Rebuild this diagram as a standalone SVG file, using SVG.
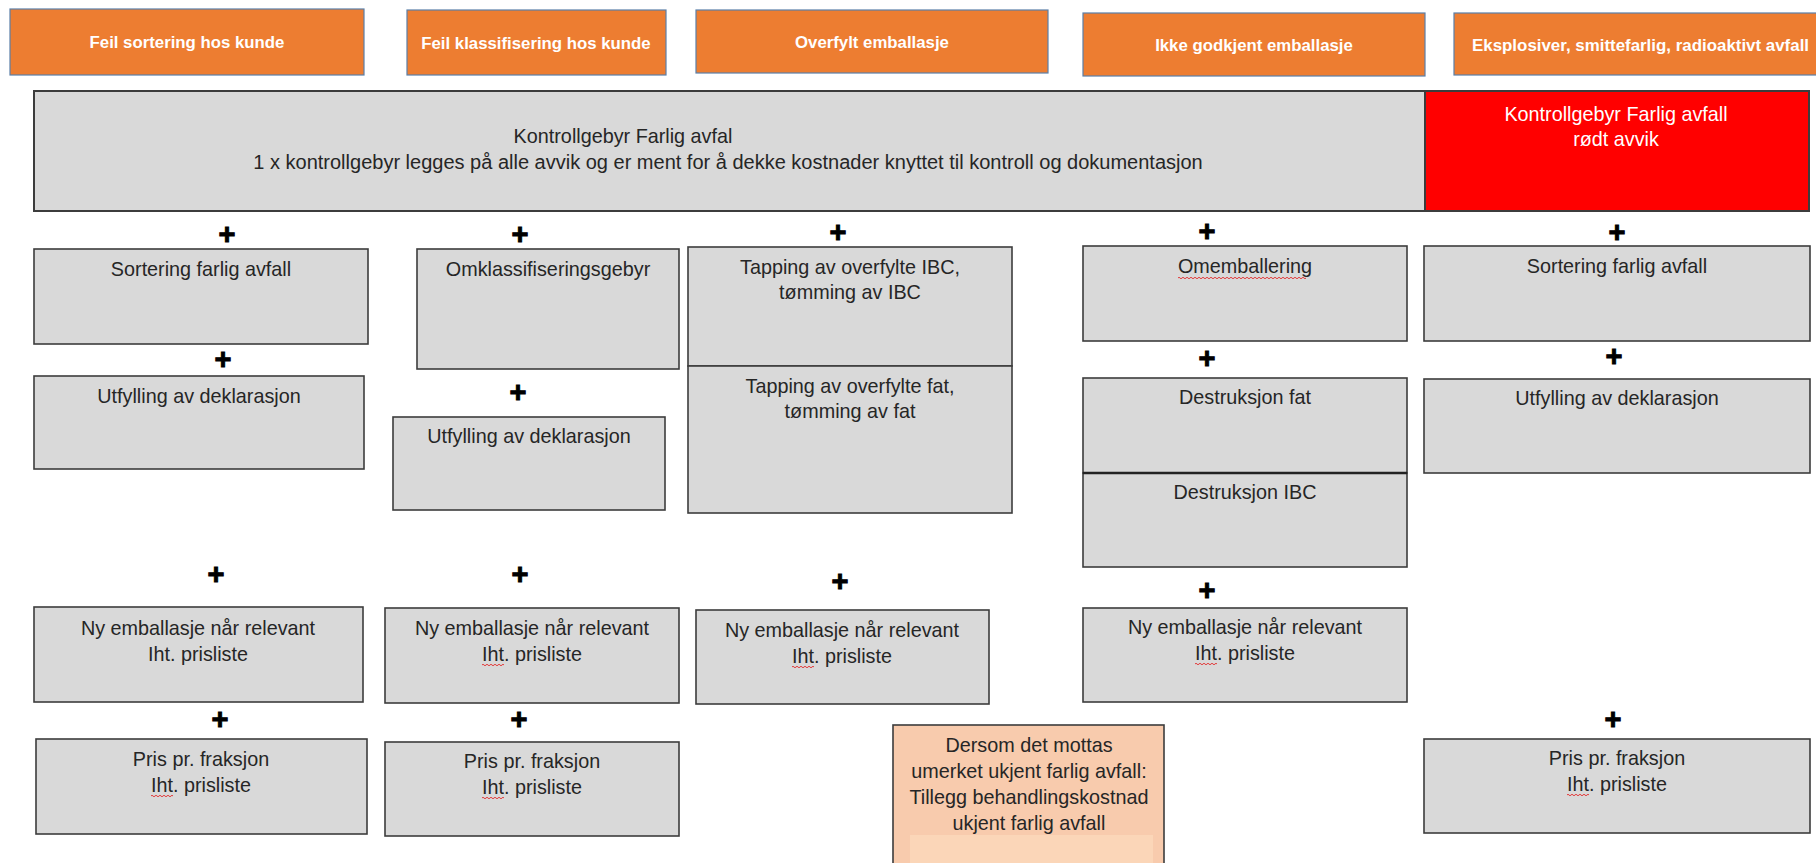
<svg xmlns="http://www.w3.org/2000/svg" width="1816" height="863" viewBox="0 0 1816 863">
<style>
.hdr rect{fill:#ED7D31;stroke:#5A7FA8;stroke-width:1.2}
.hdr text{font-family:"Liberation Sans",Arial,sans-serif;font-weight:bold;font-size:16.8px;fill:#FFFFFF;text-anchor:middle}
.box{fill:#D9D9D9;stroke:#3C3C3C;stroke-width:1.6}
.t{font-family:"Liberation Sans",Arial,sans-serif;font-size:19.8px;fill:#262626;text-anchor:middle}
.tw{font-family:"Liberation Sans",Arial,sans-serif;font-size:19.8px;fill:#FFFFFF;text-anchor:middle}
.plus{font-family:"Liberation Sans",Arial,sans-serif;font-weight:bold;font-size:29px;fill:#000;stroke:#000;stroke-width:1;text-anchor:middle}
.sq{fill:none;stroke:#E23B3B;stroke-width:1}
</style>
<rect width="1816" height="863" fill="#FFFFFF"/>

<g id="header-1" class="hdr"><rect x="10" y="9" width="354" height="66"/><text x="187" y="48">Feil sortering hos kunde</text></g>
<g id="header-2" class="hdr"><rect x="407" y="10" width="259" height="65"/><text x="536" y="49">Feil klassifisering hos kunde</text></g>
<g id="header-3" class="hdr"><rect x="696" y="10" width="352" height="63"/><text x="872" y="48">Overfylt emballasje</text></g>
<g id="header-4" class="hdr"><rect x="1083" y="13" width="342" height="63"/><text x="1254" y="51">Ikke godkjent emballasje</text></g>
<g id="header-5" class="hdr"><rect x="1454" y="13" width="380" height="62"/><text x="1472" y="51" style="text-anchor:start;font-size:16.9px">Eksplosiver, smittefarlig, radioaktivt avfall</text></g>

<g id="kontrollgebyr">
<rect class="box" x="34" y="91" width="1391" height="120" style="stroke-width:2"/>
<text class="t" x="623" y="143">Kontrollgebyr Farlig avfal</text>
<text class="t" x="728" y="169" style="font-size:20px">1 x kontrollgebyr legges på alle avvik og er ment for å dekke kostnader knyttet til kontroll og dokumentasjon</text>
</g>
<g id="kontrollgebyr-rod">
<rect x="1425" y="91" width="384" height="120" fill="#FF0000" stroke="#3C3C3C" stroke-width="2"/>
<text class="tw" x="1616" y="121">Kontrollgebyr Farlig avfall</text>
<text class="tw" x="1616" y="146">rødt avvik</text>
</g>

<!-- Column 1 -->
<g id="c1-sortering"><rect class="box" x="34" y="249" width="334" height="95"/><text class="t" x="201" y="276">Sortering farlig avfall</text></g>
<g id="c1-utfylling"><rect class="box" x="34" y="376" width="330" height="93"/><text class="t" x="199" y="403">Utfylling av deklarasjon</text></g>
<g id="c1-emballasje"><rect class="box" x="34" y="607" width="329" height="95"/><text class="t" x="198" y="635">Ny emballasje når relevant</text><text class="t" x="198" y="661">Iht. prisliste</text></g>
<g id="c1-pris"><rect class="box" x="36" y="739" width="331" height="95"/><text class="t" x="201" y="766">Pris pr. fraksjon</text><text class="t" x="201" y="792">Iht. prisliste</text>
<path class="sq" d="M151,796 q1,-1.5 2,0 t2,0 t2,0 t2,0 t2,0 t2,0 t2,0 t2,0 t2,0 t2,0 t2,0"/></g>

<!-- Column 2 -->
<g id="c2-omklass"><rect class="box" x="417" y="249" width="262" height="120"/><text class="t" x="548" y="276">Omklassifiseringsgebyr</text></g>
<g id="c2-utfylling"><rect class="box" x="393" y="417" width="272" height="93"/><text class="t" x="529" y="443">Utfylling av deklarasjon</text></g>
<g id="c2-emballasje"><rect class="box" x="385" y="608" width="294" height="95"/><text class="t" x="532" y="635">Ny emballasje når relevant</text><text class="t" x="532" y="661">Iht. prisliste</text>
<path class="sq" d="M482,665 q1,-1.5 2,0 t2,0 t2,0 t2,0 t2,0 t2,0 t2,0 t2,0 t2,0 t2,0 t2,0"/></g>
<g id="c2-pris"><rect class="box" x="385" y="742" width="294" height="94"/><text class="t" x="532" y="768">Pris pr. fraksjon</text><text class="t" x="532" y="794">Iht. prisliste</text>
<path class="sq" d="M482,798 q1,-1.5 2,0 t2,0 t2,0 t2,0 t2,0 t2,0 t2,0 t2,0 t2,0 t2,0 t2,0"/></g>

<!-- Column 3 -->
<g id="c3-tapping-ibc"><rect class="box" x="688" y="247" width="324" height="119"/><text class="t" x="850" y="274">Tapping av overfylte IBC,</text><text class="t" x="850" y="299">tømming av IBC</text></g>
<g id="c3-tapping-fat"><rect class="box" x="688" y="366" width="324" height="147"/><text class="t" x="850" y="393">Tapping av overfylte fat,</text><text class="t" x="850" y="418">tømming av fat</text></g>
<g id="c3-emballasje"><rect class="box" x="696" y="610" width="293" height="94"/><text class="t" x="842" y="637">Ny emballasje når relevant</text><text class="t" x="842" y="663">Iht. prisliste</text>
<path class="sq" d="M792,667 q1,-1.5 2,0 t2,0 t2,0 t2,0 t2,0 t2,0 t2,0 t2,0 t2,0 t2,0 t2,0"/></g>
<g id="c3-ukjent">
<rect x="893" y="725" width="271" height="150" fill="#F8CBAD" stroke="#3C3C3C" stroke-width="1.6"/>
<rect x="910" y="835" width="243" height="40" fill="#FBD6B8"/>
<text class="t" x="1029" y="752">Dersom det mottas</text>
<text class="t" x="1029" y="778">umerket ukjent farlig avfall:</text>
<text class="t" x="1029" y="804">Tillegg behandlingskostnad</text>
<text class="t" x="1029" y="830">ukjent farlig avfall</text>
</g>

<!-- Column 4 -->
<g id="c4-omemballering"><rect class="box" x="1083" y="246" width="324" height="95"/><text class="t" x="1245" y="273">Omemballering</text>
<path class="sq" d="M1178,278 q1,-1.5 2,0 t2,0 t2,0 t2,0 t2,0 t2,0 t2,0 t2,0 t2,0 t2,0 t2,0 t2,0 t2,0 t2,0 t2,0 t2,0 t2,0 t2,0 t2,0 t2,0 t2,0 t2,0 t2,0 t2,0 t2,0 t2,0 t2,0 t2,0 t2,0 t2,0 t2,0 t2,0 t2,0 t2,0 t2,0 t2,0 t2,0 t2,0 t2,0 t2,0 t2,0 t2,0 t2,0 t2,0 t2,0 t2,0 t2,0 t2,0 t2,0 t2,0 t2,0 t2,0 t2,0 t2,0 t2,0 t2,0 t2,0 t2,0 t2,0 t2,0 t2,0 t2,0 t2,0 t2,0"/></g>
<g id="c4-destruksjon-fat"><rect class="box" x="1083" y="378" width="324" height="95"/><text class="t" x="1245" y="404">Destruksjon fat</text></g>
<g id="c4-destruksjon-ibc"><rect class="box" x="1083" y="473" width="324" height="94"/><line x1="1083" y1="473" x2="1407" y2="473" stroke="#222" stroke-width="2.6"/><text class="t" x="1245" y="499">Destruksjon IBC</text></g>
<g id="c4-emballasje"><rect class="box" x="1083" y="608" width="324" height="94"/><text class="t" x="1245" y="634">Ny emballasje når relevant</text><text class="t" x="1245" y="660">Iht. prisliste</text>
<path class="sq" d="M1195,664 q1,-1.5 2,0 t2,0 t2,0 t2,0 t2,0 t2,0 t2,0 t2,0 t2,0 t2,0 t2,0"/></g>

<!-- Column 5 -->
<g id="c5-sortering"><rect class="box" x="1424" y="246" width="386" height="95"/><text class="t" x="1617" y="273">Sortering farlig avfall</text></g>
<g id="c5-utfylling"><rect class="box" x="1424" y="379" width="386" height="94"/><text class="t" x="1617" y="405">Utfylling av deklarasjon</text></g>
<g id="c5-pris"><rect class="box" x="1424" y="739" width="386" height="94"/><text class="t" x="1617" y="765">Pris pr. fraksjon</text><text class="t" x="1617" y="791">Iht. prisliste</text>
<path class="sq" d="M1567,795 q1,-1.5 2,0 t2,0 t2,0 t2,0 t2,0 t2,0 t2,0 t2,0 t2,0 t2,0 t2,0"/></g>

<g id="connectors">
<text class="plus" x="227" y="244">+</text>
<text class="plus" x="223" y="369">+</text>
<text class="plus" x="216" y="584">+</text>
<text class="plus" x="220" y="729">+</text>
<text class="plus" x="520" y="244">+</text>
<text class="plus" x="518" y="402">+</text>
<text class="plus" x="520" y="584">+</text>
<text class="plus" x="519" y="729">+</text>
<text class="plus" x="838" y="242">+</text>
<text class="plus" x="840" y="591">+</text>
<text class="plus" x="1207" y="241">+</text>
<text class="plus" x="1207" y="368">+</text>
<text class="plus" x="1207" y="600">+</text>
<text class="plus" x="1617" y="242">+</text>
<text class="plus" x="1614" y="366">+</text>
<text class="plus" x="1613" y="729">+</text>
</g>
</svg>
